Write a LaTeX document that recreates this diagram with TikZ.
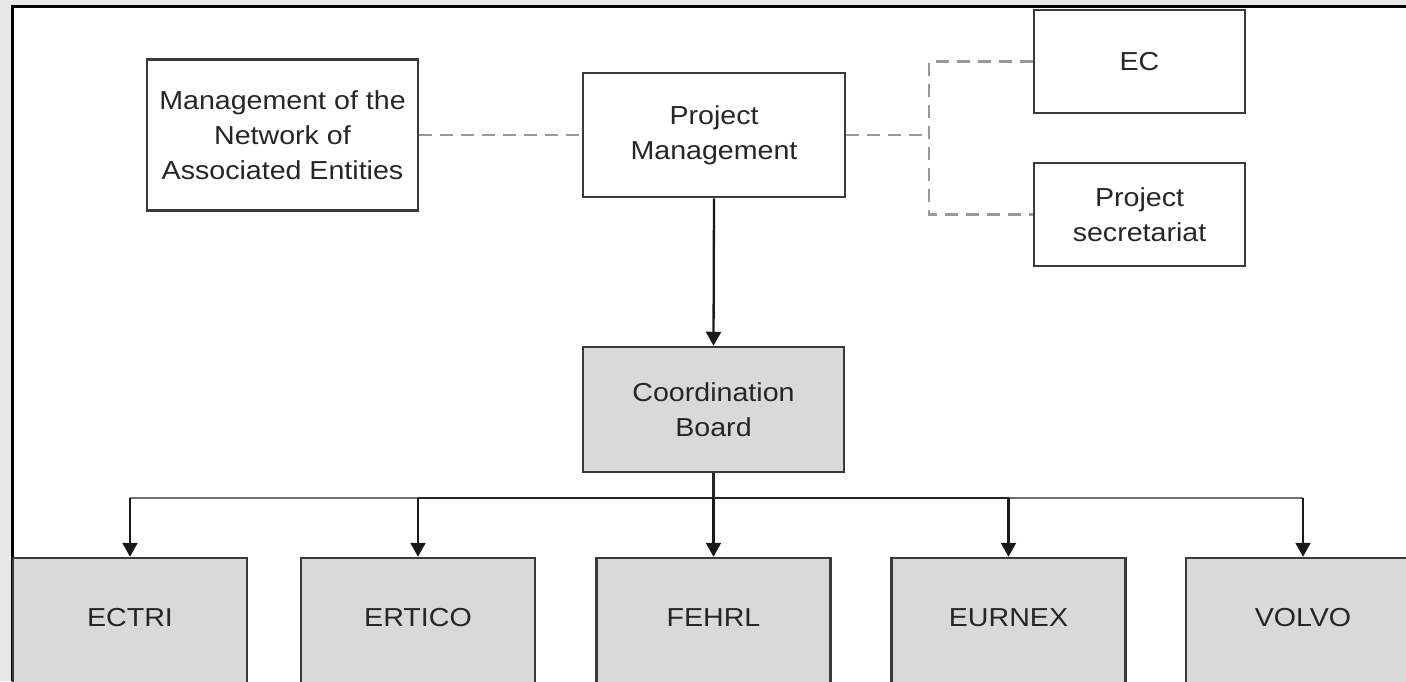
\documentclass[tikz,border=0pt]{standalone}
\usepackage{fontspec}
\setmainfont[FakeStretch=1.1]{Liberation Sans}
\usetikzlibrary{arrows.meta}
\definecolor{bggray}{HTML}{E8E8E8}
\definecolor{boxline}{HTML}{3A3A3A}
\definecolor{boxfill}{HTML}{D9D9D9}
\definecolor{txt}{HTML}{262626}
\definecolor{dashgray}{HTML}{999999}
\definecolor{buslight}{HTML}{707070}
\begin{document}
\begin{tikzpicture}[x=1pt,y=-1pt,
  every node/.style={font=\fontsize{26}{35}\selectfont, text=txt},
  every label/.style={font=\fontsize{26}{35}\selectfont, text=txt},
  wbox/.style={draw=boxline, line width=2.5pt, fill=white, inner sep=0pt, align=center},
  gbox/.style={draw=boxline, line width=2.5pt, fill=boxfill, inner sep=0pt, align=center},
  dashline/.style={draw=dashgray, line width=2.5pt, dash pattern=on 13pt off 8pt},
  arr/.style={draw=black!90, line width=2.3pt, -{Triangle[width=15pt,length=14pt]}},
  busline/.style={draw=black!85, line width=2.8pt}
]
\useasboundingbox (0,0) rectangle (1406,681);
\clip (0,0) rectangle (1406,681);
\fill[bggray] (0,0) rectangle (1406,681);
\fill[white] (12,6) rectangle (1406,681);
\draw[black, line width=3pt] (12,681) -- (12,6) -- (1406,6);

% top row
\node[wbox, minimum width=271pt, minimum height=151pt] (mgmt) at (282.5,135) {Management of the\\Network of\\Associated Entities};
\node[wbox, minimum width=262pt, minimum height=124pt] (pm) at (714,135) {Project\\Management};
\node[wbox, minimum width=211pt, minimum height=103pt] (ec) at (1139.5,61.5) {EC};
\node[wbox, minimum width=211pt, minimum height=103pt] (ps) at (1139.5,214.5) {Project\\secretariat};

% coordination board
\node[gbox, minimum width=261pt, minimum height=125pt] (cb) at (713.5,409.5) {Coordination\\Board};

% bottom row
\foreach \n/\t/\x in {ectri/ECTRI/130, ertico/ERTICO/418, fehrl/FEHRL/713.5, eurnex/EURNEX/1008.5, volvo/VOLVO/1303}{
  \node[gbox, minimum width=234pt, minimum height=140pt, label={[yshift=10pt]center:\t}] (\n) at (\x,628) {};
}

% dashed connectors
\coordinate (j) at (929,135);
\draw[dashline] (mgmt.east) -- (pm.west);
\draw[dashline] (pm.east) -- (j);
\draw[dashline] (ec.west) -| (j) |- (ps.west);

% solid connectors
\draw[arr] (pm.south) -- (cb.north);
\coordinate (bus) at (713.5,498);
\draw[busline] (cb.south) -- (bus);
\draw[busline] (ertico.north |- bus) -- (eurnex.north |- bus);
\draw[draw=buslight, line width=2.8pt] (ectri.north |- bus) -- (ertico.north |- bus);
\draw[draw=buslight, line width=2.8pt] (eurnex.north |- bus) -- (volvo.north |- bus);
\foreach \n in {ectri, ertico, fehrl, eurnex, volvo}{
  \draw[arr] (\n.north |- bus) -- (\n.north);
}
\end{tikzpicture}
\end{document}
